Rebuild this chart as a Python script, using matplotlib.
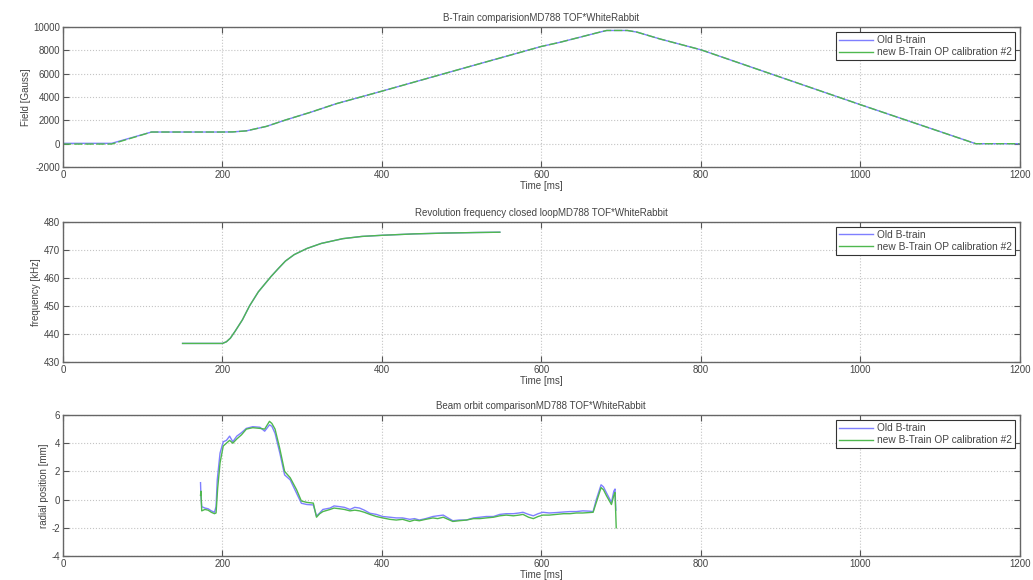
import matplotlib
matplotlib.use('Agg')
import matplotlib.pyplot as plt

# ---- dades ----
t_field = [0, 61, 111, 200, 213, 230, 255, 280, 310, 343, 400, 500, 600, 623, 650, 670, 682, 708, 720, 749, 800, 1000, 1145, 1200]
field_old = [30, 30, 1000, 1000, 1010, 1100, 1480, 2050, 2680, 3430, 4500, 6420, 8330, 8680, 9150, 9500, 9700, 9700, 9560, 8970, 8050, 3350, 0, 0]
field_new = [-30, -30, 1000, 1000, 1010, 1100, 1480, 2050, 2680, 3430, 4500, 6420, 8330, 8680, 9150, 9500, 9700, 9700, 9560, 8970, 8050, 3350, 0, 0]

t_freq = [150, 200, 205, 210, 216, 225, 234, 245, 261, 270, 279, 290, 306, 324, 351, 375, 400, 440, 480, 520, 548]
freq_old = [436.6, 436.6, 437.2, 438.5, 441, 445, 450, 455, 460.5, 463.3, 466, 468.3, 470.5, 472.3, 474, 474.8, 475.2, 475.7, 476, 476.2, 476.3]
freq_new = [436.6, 436.6, 437.2, 438.5, 441, 445, 450, 455, 460.5, 463.3, 466, 468.3, 470.5, 472.3, 474, 474.8, 475.2, 475.7, 476, 476.2, 476.3]

t_orb_old = [172.5, 173, 174, 178, 182, 186, 190, 192, 193.5, 197, 201, 205, 209, 213, 218, 224, 230, 238, 247, 253, 259, 262, 266, 272, 278, 285, 293, 299, 306, 314, 318, 322, 326, 335, 340, 347, 353, 360, 366, 372, 378, 385, 393, 401, 410, 418, 426, 435, 441, 447, 455, 464, 470, 477, 483, 489, 497, 506, 515, 523, 531, 540, 548, 556, 565, 572, 577, 584, 590, 596, 602, 610, 619, 628, 636, 644, 652, 660, 665, 669, 675, 678, 682, 688, 691, 692.5, 693.5]
orb_old = [1.2, 0.3, -0.5, -0.6, -0.65, -0.8, -0.9, -0.5, 1.4, 3.3, 4.1, 4.2, 4.5, 4.1, 4.5, 4.75, 5.05, 5.17, 5.13, 4.85, 5.3, 5.2, 4.7, 3.3, 1.75, 1.4, 0.45, -0.26, -0.35, -0.38, -1.17, -0.95, -0.7, -0.6, -0.45, -0.5, -0.55, -0.7, -0.55, -0.6, -0.75, -0.97, -1.05, -1.2, -1.25, -1.3, -1.3, -1.4, -1.35, -1.45, -1.35, -1.2, -1.15, -1.1, -1.3, -1.5, -1.45, -1.45, -1.3, -1.25, -1.2, -1.2, -1.05, -1.0, -1.0, -0.95, -0.9, -1.05, -1.15, -1.0, -0.9, -0.95, -0.92, -0.88, -0.85, -0.85, -0.8, -0.82, -0.85, 0.0, 1.05, 0.9, 0.45, -0.2, 0.6, 0.75, -0.75]

t_orb_new = [172.5, 173, 174, 178, 182, 186, 190, 192, 194, 197, 201, 205, 209, 213, 218, 224, 230, 238, 247, 253, 259, 262, 266, 272, 278, 285, 293, 299, 306, 314, 318, 322, 326, 335, 340, 347, 353, 360, 366, 372, 378, 385, 393, 401, 410, 418, 426, 435, 441, 447, 455, 464, 470, 477, 483, 489, 497, 506, 515, 523, 531, 540, 548, 556, 565, 572, 577, 584, 590, 596, 602, 610, 619, 628, 636, 644, 652, 660, 665, 669, 675, 678, 682, 688, 691, 692.5, 694]
orb_new = [0.3, 0.6, -0.8, -0.7, -0.75, -0.9, -1.0, -0.95, 0.8, 2.6, 3.8, 4.0, 4.2, 4.0, 4.3, 4.6, 5.0, 5.1, 5.05, 5.0, 5.55, 5.4, 5.0, 3.6, 2.0, 1.55, 0.7, -0.1, -0.2, -0.25, -1.25, -1.0, -0.85, -0.7, -0.6, -0.65, -0.7, -0.8, -0.75, -0.8, -0.9, -1.05, -1.2, -1.3, -1.4, -1.45, -1.4, -1.55, -1.45, -1.5, -1.4, -1.3, -1.35, -1.25, -1.4, -1.55, -1.5, -1.45, -1.35, -1.35, -1.3, -1.25, -1.15, -1.1, -1.15, -1.1, -1.05, -1.25, -1.35, -1.2, -1.1, -1.1, -1.05, -1.0, -1.0, -0.95, -0.95, -0.92, -0.9, -0.2, 0.85, 0.7, 0.25, -0.35, 0.3, 0.5, -2.0]

x_ticks = [0, 200, 400, 600, 800, 1000, 1200]
labels = ['Old B-train', 'new B-Train OP calibration #2']

plt.rcParams['font.family'] = ['Liberation Sans', 'DejaVu Sans']
plt.rcParams['font.size'] = 7
plt.rcParams['axes.unicode_minus'] = False

blau = '#7f7fff'
verd = '#4fb84f'
gris = '#444444'

fig = plt.figure(figsize=(10.33, 5.8), dpi=100)

def prepara(ax, titol, ylabel, ylim, yticks):
    ax.set_xlim(0, 1200)
    ax.set_ylim(ylim)
    ax.set_xticks(x_ticks)
    ax.set_yticks(yticks)
    ax.set_title(titol, fontsize=7, color=gris, pad=4)
    ax.set_xlabel('Time [ms]', fontsize=7, color=gris, labelpad=1)
    ax.set_ylabel(ylabel, fontsize=7, color=gris, labelpad=2)
    ax.grid(True, linestyle=':', color='#c4c4c4', linewidth=0.8)
    ax.tick_params(direction='in', top=True, right=True, length=4, colors='#555555', labelsize=7, labelcolor=gris, pad=2)
    for s in ax.spines.values():
        s.set_color('#666666')
        s.set_linewidth(1.0)
    leg = ax.legend(labels, loc='upper right', fontsize=7.3, handlelength=3.3, fancybox=False,
                    framealpha=1, borderaxespad=0.5, borderpad=0.3, labelspacing=0.2, handletextpad=0.4)
    leg.get_frame().set_edgecolor('#333333')
    leg.get_frame().set_linewidth(0.8)
    for txt in leg.get_texts():
        txt.set_color(gris)

############ CAMP ############
ax1 = fig.add_axes([0.061, 0.712, 0.926, 0.2415])
ax1.plot(t_field, field_old, color=blau, linewidth=1.0)
ax1.plot(t_field, field_new, color=verd, linewidth=1.0, dashes=(6, 2))
prepara(ax1, 'B-Train comparisionMD788 TOF*WhiteRabbit', 'Field [Gauss]', (-2000, 10000),
        [-2000, 0, 2000, 4000, 6000, 8000, 10000])
ax1.get_legend().get_lines()[1].set_dashes((None, None))
ax1.get_legend().get_lines()[1].set_linestyle('-')

############ FREQUENCIA ############
ax2 = fig.add_axes([0.061, 0.376, 0.926, 0.2415])
ax2.plot(t_freq, freq_old, color=blau, linewidth=1.0)
ax2.plot(t_freq, freq_new, color=verd, linewidth=1.0)
prepara(ax2, 'Revolution frequency closed loopMD788 TOF*WhiteRabbit', 'frequency [kHz]', (430, 480),
        [430, 440, 450, 460, 470, 480])

############ ORBITA ############
ax3 = fig.add_axes([0.061, 0.0414, 0.926, 0.2431])
ax3.plot(t_orb_old, orb_old, color=blau, linewidth=1.0)
ax3.plot(t_orb_new, orb_new, color=verd, linewidth=1.0)
prepara(ax3, 'Beam orbit comparisonMD788 TOF*WhiteRabbit', 'radial position [mm]', (-4, 6),
        [-4, -2, 0, 2, 4, 6])

plt.savefig('out.png', dpi=100)
plt.close(fig)
